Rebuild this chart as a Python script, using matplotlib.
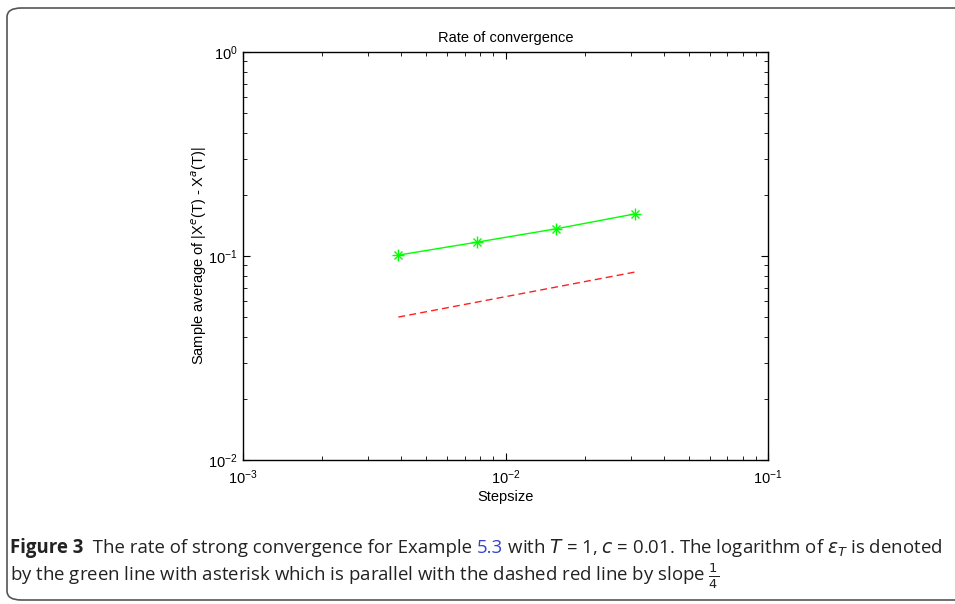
import matplotlib
matplotlib.use('Agg')
import matplotlib.pyplot as plt
from matplotlib.patches import FancyBboxPatch

# Step sizes and errors
stepsize = [1/256, 1/128, 1/64, 1/32]
error = [0.101, 0.117, 0.136, 0.161]

# Reference line with slope 1/4 (dashed red)
ref_x = [1/256, 1/32]
ref_y = [0.0502, 0.0835]

plt.rcParams['font.family'] = ['Liberation Sans', 'DejaVu Sans']

fig = plt.figure(figsize=(9.55, 6.04), dpi=100)
W, H = 955, 604

# Rounded frame around figure panel
frame = FancyBboxPatch((7 / W, 4 / H), 1.1, 592 / H,
                       boxstyle='round,pad=0,rounding_size=0.015',
                       transform=fig.transFigure, fill=False,
                       edgecolor='#555555', linewidth=1.2, clip_on=False)
fig.patches.append(frame)

ax = fig.add_axes([243 / W, 1 - 460 / H, (768 - 243) / W, (460 - 52) / H])
ax.loglog(stepsize, error, color='#00ff00', linewidth=1.0)
ax.loglog(stepsize, error, color='#00ff00', linestyle='none', marker='+', markersize=9, markeredgewidth=1.0)
ax.loglog(stepsize, error, color='#00ff00', linestyle='none', marker='x', markersize=6, markeredgewidth=1.0)
ax.loglog(ref_x, ref_y, color='#ff2020', linestyle='--', linewidth=1.0, dashes=(5, 3))

ax.set_xlim(1e-3, 1e-1)
ax.set_ylim(1e-2, 1e0)
ax.set_title('Rate of convergence', fontsize=10.5, pad=7)
ax.set_xlabel('Stepsize', fontsize=10.5, labelpad=2)
ax.set_ylabel(r'Sample average of |X$^{e}$(T) - X$^{a}$(T)|', fontsize=10.5, labelpad=-1)
ax.tick_params(which='both', direction='in', top=True, right=True, labelsize=10.5)
ax.tick_params(axis='x', which='major', pad=6)
ax.tick_params(axis='y', which='major', pad=4)
ax.tick_params(which='major', length=5)
ax.tick_params(which='minor', length=3)
for s in ax.spines.values():
    s.set_linewidth(1.0)

# Caption, drawn piece by piece
renderer = fig.canvas.get_renderer()


def put_pieces(pieces, x0, y0):
    x = x0
    for txt, kw in pieces:
        t = fig.text(x / W, 1 - y0 / H, txt, va='center', transform=fig.transFigure, **kw)
        bb = t.get_window_extent(renderer=renderer)
        x += bb.width


fs = 13.4
base = dict(fontsize=fs, family='Open Sans', color='#222222')
bold = dict(fontsize=fs, family='Open Sans', color='#222222', fontweight='bold')
blue = dict(fontsize=fs, family='Open Sans', color='#3344cc')

put_pieces([
    ('Figure 3', bold),
    ('  The rate of strong convergence for Example ', base),
    ('5.3', blue),
    (' with $T$ = 1, $c$ = 0.01. The logarithm of $\\epsilon_T$ is denoted', base),
], 10, 548)
put_pieces([
    ('by the green line with asterisk which is parallel with the dashed red line by slope $\\frac{1}{4}$', base),
], 10, 576)

plt.savefig('out.png', dpi=100)
